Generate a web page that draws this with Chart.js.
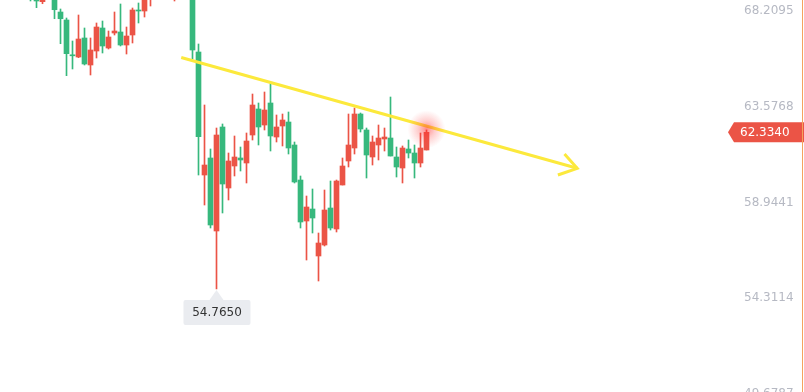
<!DOCTYPE html>
<html>
<head>
<meta charset="utf-8">
<script src="https://cdn.jsdelivr.net/npm/chart.js@4/dist/chart.umd.min.js"></script>
<style>
  html, body { margin: 0; padding: 0; background: #ffffff; overflow: hidden; }
  canvas { display: block; }
</style>
</head>
<body>
<canvas id="klineChart" width="804" height="410"></canvas>
<script>
// candles, oldest first (first ones run above the visible price range)
var opens  = [70.4, 70.9, 70.5, 70.1, 70.3, 69.6, 69.1, 68.645, 69.2, 69.4,
              68.147, 67.761, 66.079, 65.972, 66.891, 65.586, 66.262, 67.374, 66.407, 67.132,
              67.181, 66.552, 67.036, 68.244, 68.195, 68.9, 69.4, 69.9, 69.6, 69.1,
              69.5, 69.9, 69.3, 66.214, 60.270, 61.092, 57.564, 62.590, 59.642, 60.705,
              61.092, 60.850, 62.203, 63.460, 62.686, 63.750, 62.106, 62.638, 62.831, 61.720,
              60.028, 58.047, 58.627, 56.356, 56.887, 58.675, 57.661, 59.787, 60.947, 61.575,
              63.218, 62.445, 61.140, 61.720, 62.010, 62.058, 61.140, 60.608, 61.527, 61.333,
              60.850, 61.478];
var highs  = [71.1, 71.2, 70.7, 70.6, 70.4, 69.8, 69.3, 69.4, 69.8, 69.6,
              68.292, 67.857, 66.746, 68.002, 67.374, 66.891, 67.616, 67.712, 67.229, 68.147,
              68.534, 67.422, 68.340, 68.582, 69.0, 69.6, 70.1, 70.2, 70.3, 69.7,
              70.1, 70.0, 69.4, 66.601, 63.653, 61.527, 62.541, 62.735, 61.333, 62.155,
              61.623, 62.300, 64.184, 63.750, 64.281, 64.668, 63.170, 63.218, 63.315, 61.865,
              60.222, 59.255, 59.594, 57.467, 59.545, 59.980, 60.028, 61.092, 63.218, 63.508,
              63.266, 62.541, 62.155, 62.686, 62.541, 64.039, 61.623, 61.672, 61.962, 61.720,
              62.300, 62.445];
var lows   = [70.2, 70.3, 69.8, 69.9, 69.3, 68.68, 68.355, 68.548, 69.0, 67.823,
              66.615, 65.069, 65.393, 65.939, 65.586, 65.103, 65.924, 66.166, 66.359, 67.036,
              66.504, 66.117, 66.649, 67.616, 67.905, 68.437, 69.2, 69.4, 69.4, 68.679,
              69.3, 69.1, 65.876, 60.270, 58.820, 57.709, 54.765, 58.434, 59.062, 60.222,
              60.463, 59.884, 61.961, 61.720, 62.445, 61.430, 61.865, 61.672, 61.285, 59.884,
              57.709, 56.162, 57.467, 55.148, 56.839, 57.612, 57.516, 59.787, 60.657, 61.285,
              62.348, 60.125, 60.753, 60.995, 61.430, 61.188, 60.173, 59.884, 61.092, 60.125,
              60.657, 61.478];
var closes = [70.9, 70.5, 70.1, 70.3, 69.6, 68.9, 68.679, 69.2, 69.5, 68.258,
              67.823, 66.132, 66.030, 66.842, 65.634, 66.311, 67.422, 66.504, 66.939, 67.229,
              66.552, 66.987, 68.244, 68.195, 68.8, 69.4, 69.9, 69.6, 70.0, 69.5,
              69.9, 69.3, 66.311, 62.121, 60.753, 57.854, 62.203, 59.835, 60.947, 61.140,
              60.995, 61.913, 63.653, 62.590, 63.411, 62.155, 62.590, 62.928, 61.575, 59.932,
              57.999, 58.724, 58.192, 56.984, 58.579, 57.709, 59.980, 60.705, 61.720, 63.218,
              62.493, 61.237, 61.865, 62.058, 62.106, 61.188, 60.657, 61.575, 61.333, 60.850,
              61.575, 62.334];

// price axis labels
var priceTicks = [49.6787, 54.3114, 58.9441, 63.5768, 68.2095];

// hand drawn trend arrow (x in candle index units)
var trendLine = [{x: 30.12, y: 65.948}, {x: 96.12, y: 60.594}];
var arrowHead = [{x: 94.0, y: 61.285}, {x: 96.12, y: 60.594}, {x: 92.9, y: 60.270}];

var upColor = '#EB5446';
var downColor = '#37B87D';

var wickData = [];
var bodyData = [];
var candleColors = [];
for (var i = 0; i < opens.length; i++) {
    wickData.push({x: i, y: [lows[i], highs[i]]});
    bodyData.push({x: i, y: [opens[i], closes[i]]});
    candleColors.push(closes[i] >= opens[i] ? upColor : downColor);
}

// glow on the last candle, last price tag, low marker and the right border line
var overlayPlugin = {
    id: 'overlay',
    afterDatasetsDraw: function(chart) {
        var ctx = chart.ctx;
        var xs = chart.scales.x;
        var ys = chart.scales.y;
        var last = closes.length - 1;

        // glow
        var gx = xs.getPixelForValue(last);
        var gy = ys.getPixelForValue(closes[last]) - 3;
        var grad = ctx.createRadialGradient(gx, gy, 0, gx, gy, 19);
        grad.addColorStop(0, 'rgba(255, 40, 40, 0.55)');
        grad.addColorStop(0.45, 'rgba(255, 60, 60, 0.25)');
        grad.addColorStop(1, 'rgba(255, 80, 80, 0)');
        ctx.save();
        ctx.fillStyle = grad;
        ctx.beginPath();
        ctx.arc(gx, gy, 19, 0, Math.PI * 2);
        ctx.fill();
        ctx.restore();

        // low marker
        var minIdx = 0;
        for (var i = 1; i < lows.length; i++) {
            if (lows[i] < lows[minIdx]) minIdx = i;
        }
        var lx = xs.getPixelForValue(minIdx);
        var ly = ys.getPixelForValue(lows[minIdx]);
        ctx.save();
        ctx.fillStyle = '#EAECF0';
        ctx.beginPath();
        ctx.moveTo(lx, ly + 1);
        ctx.lineTo(lx + 7, ly + 11);
        ctx.lineTo(lx - 7, ly + 11);
        ctx.closePath();
        ctx.fill();
        ctx.beginPath();
        ctx.roundRect(lx - 33, ly + 11, 67, 25, 2);
        ctx.fill();
        ctx.fillStyle = '#333333';
        ctx.font = '12px "DejaVu Sans"';
        ctx.textAlign = 'center';
        ctx.textBaseline = 'middle';
        ctx.fillText(lows[minIdx].toFixed(4), lx + 0.5, ly + 24);
        ctx.restore();

        // last price tag
        var py = ys.getPixelForValue(closes[last]);
        ctx.save();
        ctx.fillStyle = upColor;
        ctx.beginPath();
        ctx.moveTo(728, py);
        ctx.lineTo(734, py - 10);
        ctx.lineTo(804, py - 10);
        ctx.lineTo(804, py + 10);
        ctx.lineTo(734, py + 10);
        ctx.closePath();
        ctx.fill();
        ctx.fillStyle = '#ffffff';
        ctx.font = '12px "DejaVu Sans"';
        ctx.textAlign = 'left';
        ctx.textBaseline = 'middle';
        ctx.fillText(closes[last].toFixed(4), 740, py + 0.5);

        // orange border on the right
        ctx.fillStyle = '#F5A35E';
        ctx.fillRect(802, 0, 1, chart.height);
        ctx.restore();
    }
};

var ctx = document.getElementById('klineChart').getContext('2d');
var chart = new Chart(ctx, {
    type: 'bar',
    data: {
        datasets: [
            {
                type: 'line',
                data: trendLine,
                borderColor: '#FCE93C',
                borderWidth: 3,
                pointRadius: 0,
                order: 0
            },
            {
                type: 'line',
                data: arrowHead,
                borderColor: '#FCE93C',
                borderWidth: 3,
                pointRadius: 0,
                order: 0
            },
            {
                data: bodyData,
                backgroundColor: candleColors,
                barThickness: 5,
                minBarLength: 1,
                grouped: false,
                order: 1
            },
            {
                data: wickData,
                backgroundColor: candleColors,
                barThickness: 1,
                grouped: false,
                order: 2
            }
        ]
    },
    plugins: [overlayPlugin],
    options: {
        responsive: false,
        animation: false,
        layout: { padding: 0 },
        plugins: {
            legend: { display: false },
            tooltip: { enabled: false }
        },
        scales: {
            x: {
                type: 'linear',
                display: false,
                offset: false,
                min: -0.0833,
                max: 120.9167
            },
            y: {
                position: 'right',
                min: 48.914,
                max: 68.727,
                grid: { display: false },
                border: { display: false },
                afterBuildTicks: function(scale) {
                    scale.ticks = priceTicks.map(function(v) { return {value: v}; });
                },
                afterFit: function(scale) {
                    scale.width = 78;
                    scale.paddingTop = 0;
                    scale.paddingBottom = 0;
                },
                ticks: {
                    padding: 10,
                    color: '#B6B9C3',
                    font: { family: 'DejaVu Sans', size: 12 },
                    callback: function(value) { return value.toFixed(4); }
                }
            }
        }
    }
});
</script>
</body>
</html>
